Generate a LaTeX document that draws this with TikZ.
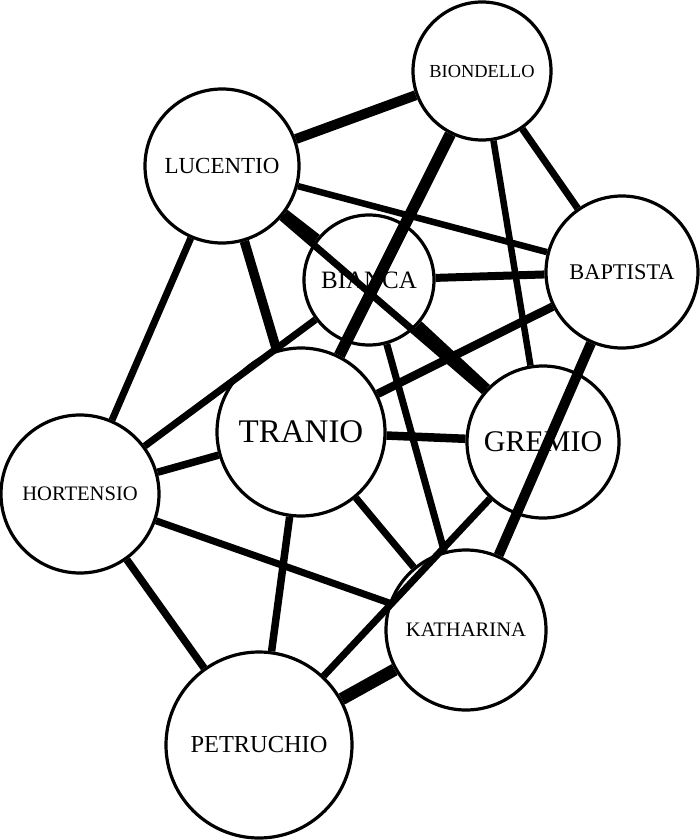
\documentclass[tikz,border=0pt]{standalone}
\usepackage{fontspec}
\setmainfont{Liberation Serif}
\begin{document}
\begin{tikzpicture}[x=1pt,y=-1pt,
  person/.style={circle,draw=black,fill=white,line width=3.2pt,inner sep=0pt},
  link/.style={draw=black,line width=#1},
  link/.default=7pt]
\useasboundingbox (0,0) rectangle (700,840);
% nodes
\node[person,minimum size=138pt,font=\fontsize{18.4}{20}\selectfont] (bio) at (482,71) {BIONDELLO};
\node[person,minimum size=154pt,font=\fontsize{23}{25}\selectfont] (luc) at (222,166) {LUCENTIO};
\node[person,minimum size=130pt,font=\fontsize{25}{27}\selectfont] (bia) at (369,280) {BIANCA};
\node[person,minimum size=152pt,font=\fontsize{22.4}{24}\selectfont] (bap) at (622,272) {BAPTISTA};
\node[person,minimum size=168pt,font=\fontsize{33}{35}\selectfont] (tra) at (301,432) {TRANIO};
\node[person,minimum size=152pt,font=\fontsize{30}{32}\selectfont] (gre) at (543,442) {GREMIO};
\node[person,minimum size=158pt,font=\fontsize{20.6}{22}\selectfont] (hor) at (80,494) {HORTENSIO};
\node[person,minimum size=160pt,font=\fontsize{20.6}{22}\selectfont] (kat) at (466,630) {KATHARINA};
\node[person,minimum size=186pt,font=\fontsize{24.4}{26}\selectfont] (pet) at (259,745) {PETRUCHIO};
% edges
\draw[link=10pt] (luc) -- (bio);
\draw[link=11.5pt] (bio) -- (tra);
\draw[link=7pt] (bio) -- (bap);
\draw[link=6.5pt] (bio) -- (gre);
\draw[link=6.5pt] (luc) -- (bap);
\draw[link=9.5pt] (luc) -- (tra);
\draw[link=11pt] (luc) -- (bia);
\draw[link=11pt] (bia) -- (gre);
\draw[link=7pt] (luc) -- (gre);
\draw[link=7pt] (luc) -- (hor);
\draw[link=8pt] (bia) -- (bap);
\draw[link=7pt] (bia) -- (hor);
\draw[link=7pt] (bia) -- (kat);
\draw[link=8.5pt] (bap) -- (tra);
\draw[link=10pt] (bap) -- (kat);
\draw[link=8.5pt] (tra) -- (gre);
\draw[link=7.5pt] (tra) -- (hor);
\draw[link=7.5pt] (tra) -- (pet);
\draw[link=7pt] (tra) -- (kat);
\draw[link=7pt] (hor) -- (kat);
\draw[link=7.5pt] (hor) -- (pet);
\draw[link=7pt] (gre) -- (pet);
\draw[link=12.5pt] (kat) -- (pet);
\end{tikzpicture}
\end{document}
